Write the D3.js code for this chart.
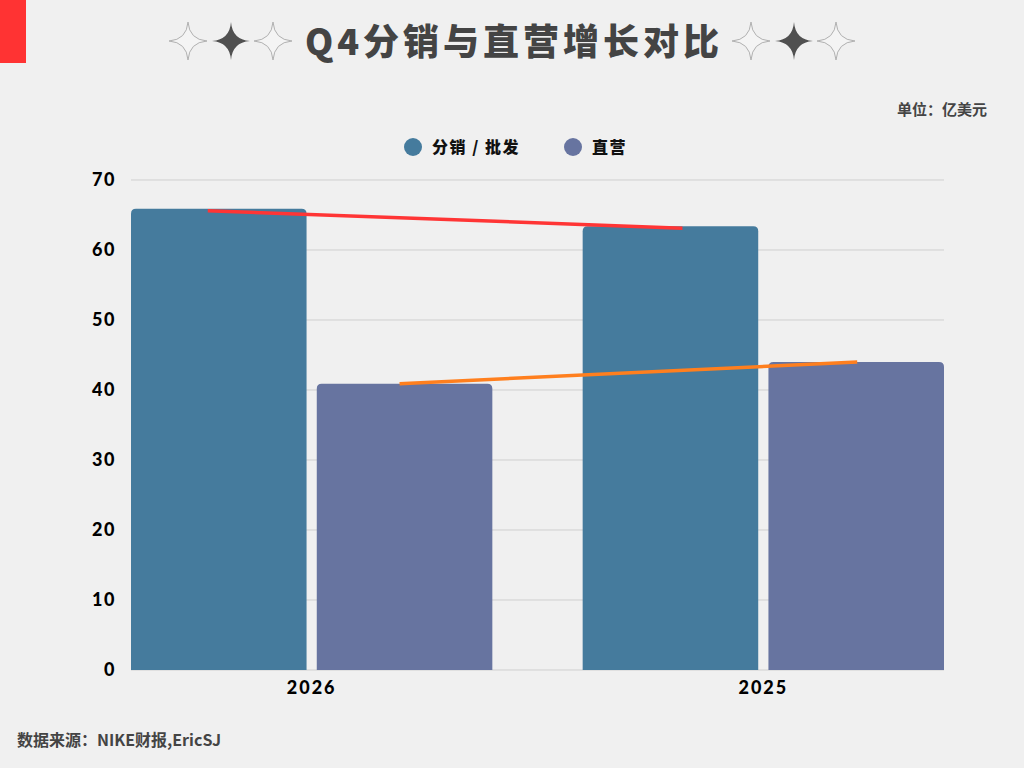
<!DOCTYPE html>
<html>
<head>
<meta charset="utf-8">
<script src="https://cdn.jsdelivr.net/npm/d3@7"></script>
<style>
  html, body { margin: 0; padding: 0; background: #f0f0f0; }
  svg { display: block; }
</style>
</head>
<body>
<svg id="chart"></svg>
<script>
// data
const years = ['2026', '2025'];
const seriesNames = ['分销 / 批发', '直营'];
const wholesale = [65.9, 63.4];
const direct = [40.9, 44.0];
const yTicks = [0, 10, 20, 30, 40, 50, 60, 70];
const colors = ['#457b9d', '#6774a0'];
const trendColors = ['#ff3535', '#ff7f1e'];

const W = 1024, H = 768;
const margin = { top: 180, right: 80, bottom: 98, left: 131 };
const width = W - margin.left - margin.right;
const height = H - margin.top - margin.bottom;

const svg = d3.select('#chart').attr('width', W).attr('height', H);
svg.append('rect').attr('width', W).attr('height', H).attr('fill', '#f0f0f0');

// red corner block
svg.append('rect').attr('x', 0).attr('y', 0).attr('width', 26).attr('height', 63).attr('fill', '#ff3333');

// title with stars
const starPath = (cx, cy, r) => {
  const k = r * 0.07;
  return `M${cx},${cy - r} Q${cx + k},${cy - k} ${cx + r},${cy} Q${cx + k},${cy + k} ${cx},${cy + r} Q${cx - k},${cy + k} ${cx - r},${cy} Q${cx - k},${cy - k} ${cx},${cy - r}Z`;
};
const starGroup = (x0) => {
  svg.append('path').attr('d', starPath(x0, 41, 19)).attr('fill', '#f4f4f4').attr('stroke', '#b0b0b0').attr('stroke-width', 1);
  svg.append('path').attr('d', starPath(x0 + 43, 41, 19)).attr('fill', '#505050');
  svg.append('path').attr('d', starPath(x0 + 85, 41, 19)).attr('fill', '#f4f4f4').attr('stroke', '#b0b0b0').attr('stroke-width', 1);
};
starGroup(188);
starGroup(751);

svg.append('text')
  .attr('x', 514).attr('y', 55)
  .attr('text-anchor', 'middle')
  .style('font-family', '"Noto Sans CJK SC", sans-serif')
  .style('font-weight', 900)
  .style('font-size', '36px')
  .style('letter-spacing', '4px')
  .attr('fill', '#444')
  .text('Q4分销与直营增长对比');

// unit
svg.append('text')
  .attr('x', 987).attr('y', 115)
  .attr('text-anchor', 'end')
  .style('font-family', '"Noto Sans CJK SC", sans-serif')
  .style('font-weight', 700)
  .style('font-size', '15px')
  .attr('fill', '#444')
  .text('单位：亿美元');

// legend
const legendX = [413, 573];
seriesNames.forEach((name, i) => {
  svg.append('circle').attr('cx', legendX[i]).attr('cy', 147).attr('r', 9).attr('fill', colors[i]);
  svg.append('text')
    .attr('x', legendX[i] + 19).attr('y', 153)
    .style('font-family', '"Noto Sans CJK SC", sans-serif')
    .style('font-weight', 900)
    .style('font-size', '16px')
    .style('letter-spacing', '1.5px')
    .attr('fill', '#111')
    .text(name);
});

const g = svg.append('g').attr('transform', `translate(${margin.left},${margin.top})`);

const x = d3.scaleBand().domain(years).range([0, width]).paddingInner(0.2).paddingOuter(0);
const xSub = d3.scaleBand().domain([0, 1]).range([0, x.bandwidth()]).paddingInner(0.055);
const y = d3.scaleLinear().domain([0, 70]).range([height, 0]);

// grid
g.selectAll('.grid')
  .data(yTicks)
  .enter().append('line')
  .attr('x1', 0).attr('x2', width)
  .attr('y1', d => y(d)).attr('y2', d => y(d))
  .attr('stroke', '#cfcfcf').attr('stroke-width', 1);

// y axis
const yAxis = g.append('g').call(d3.axisLeft(y).tickValues(yTicks).tickSize(0).tickPadding(15));
yAxis.select('.domain').remove();
yAxis.selectAll('text')
  .style('font-family', 'Lato, sans-serif')
  .style('font-weight', 900)
  .style('font-size', '18px')
  .style('letter-spacing', '1.5px')
  .attr('fill', '#000');

// x axis
const xAxis = g.append('g').attr('transform', `translate(0,${height})`)
  .call(d3.axisBottom(x).tickSize(0).tickPadding(11));
xAxis.select('.domain').remove();
xAxis.selectAll('text')
  .style('font-family', 'Lato, sans-serif')
  .style('font-weight', 900)
  .style('font-size', '18px')
  .style('letter-spacing', '2px')
  .attr('fill', '#000');

// bars with rounded top corners
const seriesVals = [wholesale, direct];
const roundTop = (x0, y0, w, h, r) =>
  `M${x0},${y0 + h} V${y0 + r} Q${x0},${y0} ${x0 + r},${y0} H${x0 + w - r} Q${x0 + w},${y0} ${x0 + w},${y0 + r} V${y0 + h} Z`;

years.forEach((yr, i) => {
  seriesVals.forEach((vals, s) => {
    const bx = x(yr) + xSub(s);
    const by = y(vals[i]);
    g.append('path')
      .attr('d', roundTop(bx, by, xSub.bandwidth(), height - by, 5))
      .attr('fill', colors[s]);
  });
});

// trend lines
const trendOffset = [[-11, 12], [-5, 1]];
seriesVals.forEach((vals, s) => {
  const pts = years.map((yr, i) => [x(yr) + xSub(s) + xSub.bandwidth() / 2 + trendOffset[s][i], y(vals[i]) + (s === 0 ? 2 : 0)]);
  g.append('path')
    .attr('d', d3.line()(pts))
    .attr('stroke', trendColors[s])
    .attr('stroke-width', 3.5)
    .attr('fill', 'none');
});

// footer
svg.append('text')
  .attr('x', 17).attr('y', 746)
  .style('font-family', '"Noto Sans CJK SC", sans-serif')
  .style('font-weight', 700)
  .style('font-size', '16px')
  .attr('fill', '#444')
  .text('数据来源：NIKE财报,EricSJ');
</script>
</body>
</html>
